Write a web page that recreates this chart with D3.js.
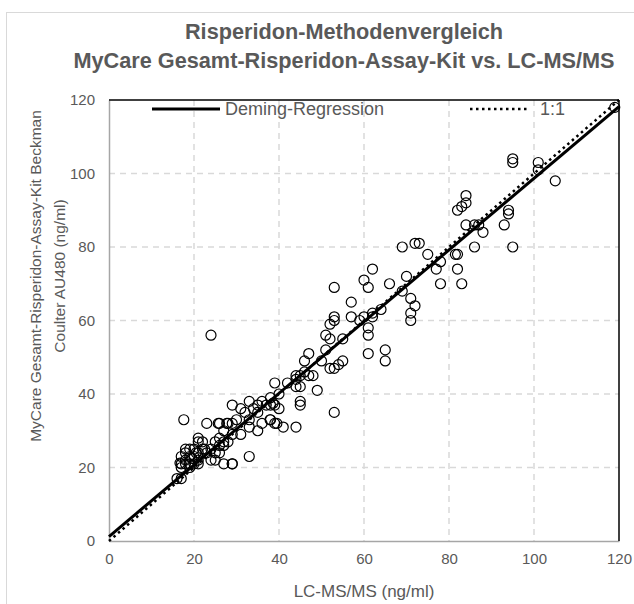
<!DOCTYPE html>
<html>
<head>
<meta charset="utf-8">
<script src="https://cdn.jsdelivr.net/npm/d3@7"></script>
<style>
  body { margin: 0; background: #fff; }
  text { font-family: "Liberation Sans", Arial, sans-serif; fill: #595959; }
</style>
</head>
<body>
<div id="container"></div>
<script>
/* DATA */
const lcms = [119, 101, 101, 95, 95, 105, 94, 94, 93, 95,
  84, 84, 83, 82, 84, 86, 87, 88, 86, 82, 81.5, 82, 83, 78, 77, 78,
  73, 72, 69, 75, 70, 69, 71, 72, 71, 71, 62, 60, 61, 66, 57, 59, 60, 62, 62, 64,
  61, 61, 61, 65, 65, 53, 53, 53, 52, 51, 52, 55, 55, 54, 53, 52, 51, 53,
  47, 46, 48, 46, 45, 47, 44, 42, 44, 45, 45, 45, 44, 39, 40, 38, 39, 38, 40, 41, 39, 38,
  36, 35, 33, 34, 31, 32, 35, 33, 33, 31, 29, 29, 29, 28, 27, 27, 28, 26, 27, 26, 25, 24, 25,
  26, 26, 25, 27, 29, 33, 24, 21, 22, 21, 22, 23, 21, 20, 19, 18, 18, 19, 20, 21, 20, 21, 19,
  18, 17, 19, 18, 17, 17, 16, 17, 17.6, 23, 25.7, 27.7, 30, 57, 44, 36, 49, 35, 37, 50,
  38.6, 37.9, 39.5, 24, 29, 20.5, 22.5, 19.5, 16.7];
const mycare = [118, 103, 101, 104, 103, 98, 90, 89, 86, 80,
  94, 92, 91, 90, 86, 86, 86, 84, 80, 78, 78, 74, 70, 76, 74, 70,
  81, 81, 80, 78, 72, 68, 66, 64, 62, 60, 74, 71, 69, 70, 65, 60, 61, 61, 62, 63,
  58, 56, 51, 52, 49, 69, 61, 60, 59, 56, 55, 55, 49, 48, 47, 47, 52, 35,
  51, 49, 45, 46, 45, 45, 44, 43, 42, 42, 38, 37, 31, 43, 40, 39, 37, 37, 36, 31, 32, 33,
  38, 37, 38, 36, 36, 35, 35, 33, 31, 29, 37, 32, 29, 32, 30, 27, 27, 26, 26, 28, 27, 25, 24,
  32, 24, 22, 21, 21, 23, 56, 28, 27, 27, 25, 24, 24, 25, 25, 25, 24, 23, 23, 22, 21, 21, 21,
  21, 20, 20, 22, 21, 23, 17, 17, 33, 32, 32, 32, 33, 61, 45, 32, 41, 30, 37, 49,
  37.5, 33, 32, 22, 21, 24, 25, 22.5, 21.2];
const xTicks = [0, 20, 40, 60, 80, 100, 120];
const yTicks = [0, 20, 40, 60, 80, 100, 120];
const demingX = [0, 120];
const demingY = [1.2, 118.2];
const identityX = [0, 120];
const identityY = [0, 120];

/* LAYOUT */
const width = 634, height = 604;
const plotLeft = 109, plotRight = 619, plotTop = 100, plotBottom = 541;

const svg = d3.select("#container").append("svg")
  .attr("width", width).attr("height", height);

// chart area frame
svg.append("rect")
  .attr("x", 6.5).attr("y", 12.5)
  .attr("width", 700).attr("height", 700)
  .attr("fill", "none").attr("stroke", "#d9d9d9");

const xScale = d3.scaleLinear().domain([0, 120]).range([plotLeft, plotRight]);
const yScale = d3.scaleLinear().domain([0, 120]).range([plotBottom, plotTop]);

// gridlines
svg.append("g").selectAll("line").data(xTicks.slice(1, -1)).join("line")
  .attr("x1", d => xScale(d)).attr("x2", d => xScale(d))
  .attr("y1", plotTop).attr("y2", plotBottom)
  .attr("stroke", "#d9d9d9").attr("stroke-width", 1.5).attr("stroke-dasharray", "6 5");
svg.append("g").selectAll("line").data(yTicks.slice(1, -1)).join("line")
  .attr("y1", d => yScale(d)).attr("y2", d => yScale(d))
  .attr("x1", plotLeft).attr("x2", plotRight)
  .attr("stroke", "#d9d9d9").attr("stroke-width", 1.5).attr("stroke-dasharray", "6 5");

// axes
const xAxis = d3.axisBottom(xScale).tickValues(xTicks).tickSize(0).tickPadding(12);
const yAxis = d3.axisLeft(yScale).tickValues(yTicks).tickSize(0).tickPadding(14);
const gx = svg.append("g").attr("transform", `translate(0,${plotBottom})`).call(xAxis);
const gy = svg.append("g").attr("transform", `translate(${plotLeft},0)`).call(yAxis);
[gx, gy].forEach(g => {
  g.select(".domain").attr("stroke", "#a6a6a6").attr("stroke-width", 1.5);
  g.selectAll("text").style("font-size", "15px").attr("fill", "#595959")
    .style("font-family", "Liberation Sans, Arial, sans-serif");
});

// top / right border
svg.append("line").attr("x1", plotLeft).attr("x2", plotRight).attr("y1", plotTop).attr("y2", plotTop)
  .attr("stroke", "#000").attr("stroke-width", 1.5);
svg.append("line").attr("x1", plotRight).attr("x2", plotRight).attr("y1", plotTop).attr("y2", plotBottom)
  .attr("stroke", "#000").attr("stroke-width", 1.5);

// points
svg.append("g").selectAll("circle").data(lcms).join("circle")
  .attr("cx", d => xScale(d))
  .attr("cy", (d, i) => yScale(mycare[i]))
  .attr("r", 5)
  .attr("fill", "none")
  .attr("stroke", "#000")
  .attr("stroke-width", 1.2);

// lines
const line = d3.line().x(d => xScale(d[0])).y(d => yScale(d[1]));
svg.append("path")
  .attr("d", line(identityX.map((x, i) => [x, identityY[i]])))
  .attr("stroke", "#000").attr("stroke-width", 2.5).attr("fill", "none")
  .attr("stroke-dasharray", "2.5 3.5");
svg.append("path")
  .attr("d", line(demingX.map((x, i) => [x, demingY[i]])))
  .attr("stroke", "#000").attr("stroke-width", 3).attr("fill", "none");

// legend
const ly = 109;
svg.append("line").attr("x1", 152).attr("x2", 220).attr("y1", ly).attr("y2", ly)
  .attr("stroke", "#000").attr("stroke-width", 3);
svg.append("text").attr("x", 225).attr("y", ly).attr("dy", "0.35em")
  .style("font-size", "18px").text("Deming-Regression");
svg.append("line").attr("x1", 470).attr("x2", 530).attr("y1", ly).attr("y2", ly)
  .attr("stroke", "#000").attr("stroke-width", 2.5).attr("stroke-dasharray", "2.5 3.5");
svg.append("text").attr("x", 540).attr("y", ly).attr("dy", "0.35em")
  .style("font-size", "18px").text("1:1");

// titles
svg.append("text").attr("x", 344).attr("y", 39).attr("text-anchor", "middle")
  .style("font-size", "21.7px").style("font-weight", "bold").text("Risperidon-Methodenvergleich");
svg.append("text").attr("x", 344).attr("y", 68).attr("text-anchor", "middle")
  .style("font-size", "21.7px").style("font-weight", "bold").text("MyCare Gesamt-Risperidon-Assay-Kit vs. LC-MS/MS");

svg.append("text").attr("x", 364).attr("y", 591).attr("dy", "0.35em").attr("text-anchor", "middle")
  .style("font-size", "17px").text("LC-MS/MS (ng/ml)");

const yt = svg.append("text").attr("transform", "translate(36,276) rotate(-90)")
  .attr("text-anchor", "middle").style("font-size", "15.5px");
yt.append("tspan").attr("x", 0).attr("dy", "0.35em").text("MyCare Gesamt-Risperidon-Assay-Kit Beckman");
yt.append("tspan").attr("x", 0).attr("dy", "1.5em").text("Coulter AU480 (ng/ml)");
</script>
</body>
</html>
